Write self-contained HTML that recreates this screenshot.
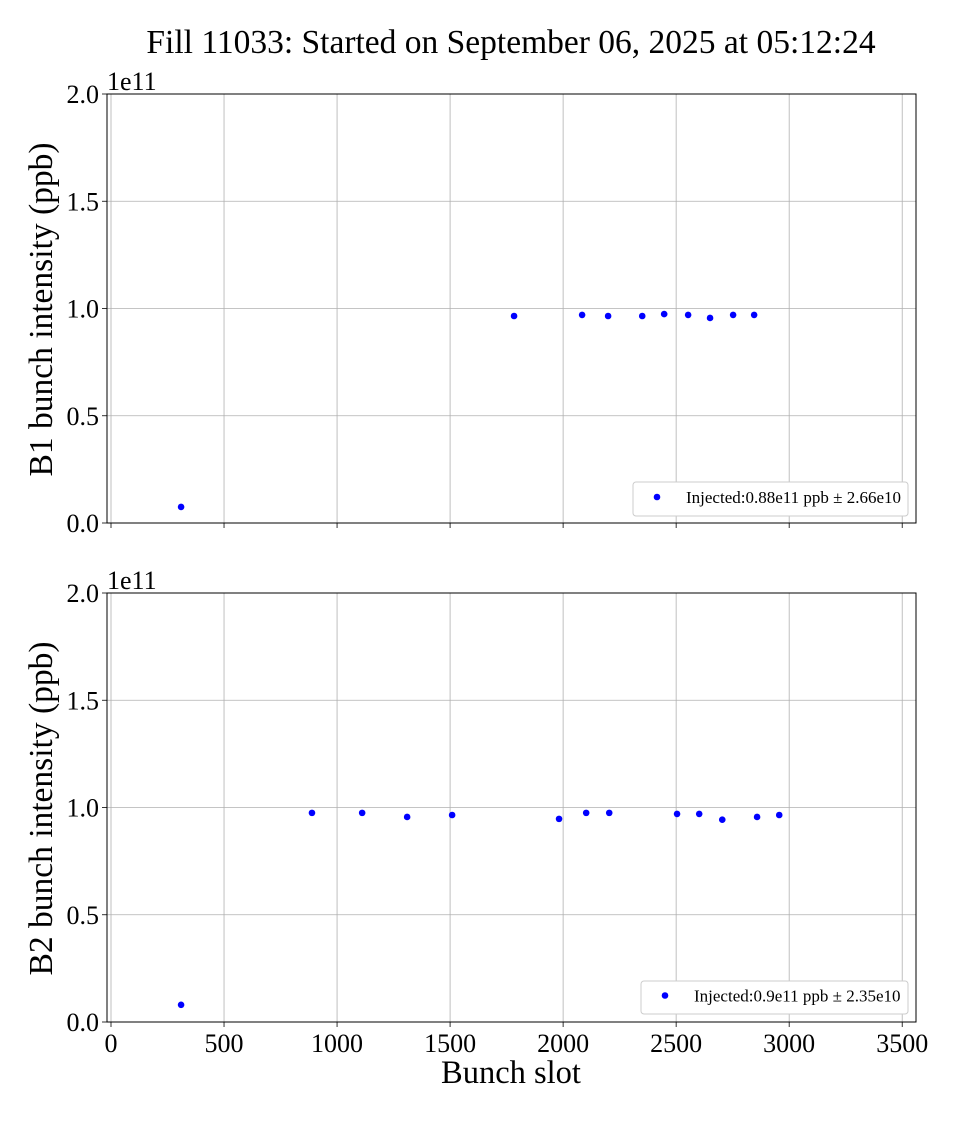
<!DOCTYPE html>
<html><head><meta charset="utf-8"><style>
html,body{margin:0;padding:0;background:#fff}
svg text{font-family:"Liberation Serif","DejaVu Serif",serif;fill:#000}
</style></head><body>
<svg id="chart" width="960" height="1120" xmlns="http://www.w3.org/2000/svg">
<text x="511" y="53" font-size="33.5" text-anchor="middle">Fill 11033: Started on September 06, 2025 at 05:12:24</text>
<g id="p1"></g>
<g id="p2"></g>
<text x="511" y="1083" font-size="32.5" text-anchor="middle">Bunch slot</text>
</svg>
<script>
const xTicks=[0,500,1000,1500,2000,2500,3000,3500];
const yTicks=[0,0.5,1.0,1.5,2.0];
const yTickLabels=["0.0","0.5","1.0","1.5","2.0"];
const b1Slots=[310,1783,2084,2199,2350,2447,2553,2650,2752,2845];
const b1Vals=[0.075,0.965,0.97,0.965,0.965,0.974,0.97,0.956,0.97,0.97];
const b2Slots=[310,889,1111,1310,1509,1982,2102,2204,2504,2602,2704,2858,2956];
const b2Vals=[0.08,0.975,0.975,0.956,0.965,0.947,0.975,0.975,0.97,0.97,0.943,0.956,0.965];
const NS="http://www.w3.org/2000/svg";
const L=107,R=916,X0=-17.7,X1=3561;
function sx(v){return L+(v-X0)/(X1-X0)*(R-L);}
function mk(t,a,p){const e=document.createElementNS(NS,t);for(const k in a)e.setAttribute(k,a[k]);p.appendChild(e);return e;}
function panel(g,top,bot,slots,vals,label,legend,legBox,showX){
  const sy=v=>bot-(v/2)*(bot-top);
  xTicks.forEach(t=>{const x=sx(t);
    const l=mk('line',{x1:x,x2:x,y1:top,y2:bot,stroke:'#b0b0b0','stroke-width':0.8},g);
    
    
    const tk=mk('line',{x1:x,x2:x,y1:bot,y2:bot+5,stroke:'#000','stroke-width':0.8},g);
    
    
    if(showX){const tx=mk('text',{x:x,y:bot+30,'font-size':26,'text-anchor':'middle'},g);tx.textContent=t;
      
      }
  });
  yTicks.forEach((t,i)=>{const y=sy(t);
    const l=mk('line',{x1:L,x2:R,y1:y,y2:y,stroke:'#b0b0b0','stroke-width':0.8},g);
    
    
    mk('line',{x1:L-5,x2:L,y1:y,y2:y,stroke:'#000','stroke-width':0.8},g);
    const tx=mk('text',{x:L-8,y:y+9,'font-size':26,'text-anchor':'end'},g);tx.textContent=yTickLabels[i];
    
    
  });
  const fr=mk('rect',{x:L,y:top,width:R-L,height:bot-top,fill:'none',stroke:'#000','stroke-width':1},g);
  
  
  const ex=mk('text',{x:L,y:top-4,'font-size':26},g);ex.textContent='1e11';
  
  
  const yl=mk('text',{x:0,y:0,'font-size':33.5,'text-anchor':'middle',transform:`translate(52,${(top+bot)/2+1}) rotate(-90)`},g);yl.textContent=label;
  
  
  slots.forEach((s,i)=>{const c=mk('circle',{cx:sx(s),cy:sy(vals[i]),r:3.3,fill:'#0000ff'},g);
    
    });
  const lg=mk('g',{},g);
  
  
  mk('rect',{x:legBox[0],y:legBox[1],width:legBox[2],height:legBox[3],fill:'#fff',stroke:'#ccc',rx:3},lg);
  mk('circle',{cx:legBox[0]+24,cy:legBox[1]+legBox[3]/2-2,r:3.3,fill:'#0000ff'},lg);
  const lt=mk('text',{x:legBox[0]+53,y:legBox[1]+legBox[3]/2+4,'font-size':17},lg);lt.textContent=legend;
  
  
}
panel(document.getElementById('p1'),94,523,b1Slots,b1Vals,'B1 bunch intensity (ppb)','Injected:0.88e11 ppb ± 2.66e10',[633,482,275,34],false);
panel(document.getElementById('p2'),593,1022,b2Slots,b2Vals,'B2 bunch intensity (ppb)','Injected:0.9e11 ppb ± 2.35e10',[641,981,267,33],true);
</script>
</body></html>
